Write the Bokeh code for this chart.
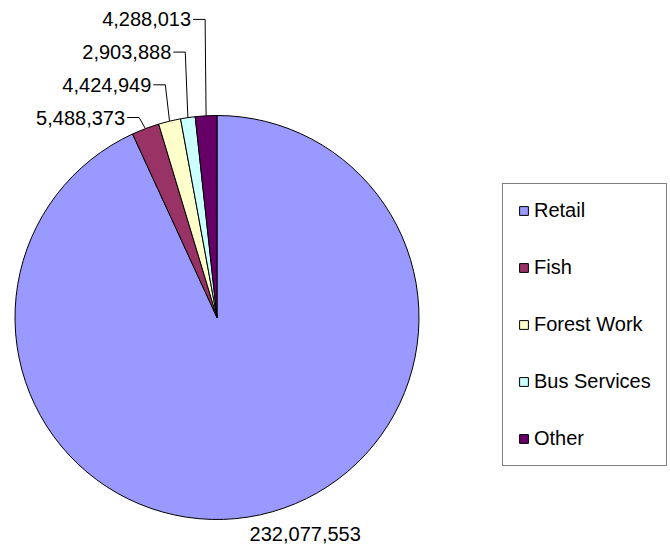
import numpy as np
from bokeh.plotting import figure
from bokeh.models import ColumnDataSource, Range1d, Legend, LegendItem
from bokeh.core.properties import value
from bokeh.embed import file_html
from bokeh.resources import INLINE

# ---- data ----
categories = ["Retail", "Fish", "Forest Work", "Bus Services", "Other"]
amounts = [232077553, 5488373, 4424949, 2903888, 4288013]
labels = ["232,077,553", "5,488,373", "4,424,949", "2,903,888", "4,288,013"]
colors = ["#9999FF", "#993366", "#FFFFCC", "#CCFFFF", "#660066"]

# ---- layout / style ----
W, H = 670, 544
CX, CY_PX, R = 216.5, 317.0, 202.0
CY = H - CY_PX
FONT = "Liberation Sans"
FSIZE = "20px"

vals = np.array(amounts, dtype=float)
frac = vals / vals.sum()
cum = np.cumsum(frac)
prev = np.concatenate([[0.0], cum[:-1]])
# clockwise from 12 o'clock
start = np.deg2rad(90 - 360 * cum)
end = np.deg2rad(90 - 360 * prev)
mid = (start + end) / 2

src = ColumnDataSource(dict(cat=categories, start=start, end=end, color=colors,
                            x=[CX] * len(categories), y=[CY] * len(categories)))

p = figure(width=W, height=H, x_range=Range1d(0, W), y_range=Range1d(0, H),
           output_backend="svg", toolbar_location=None, min_border=0,
           x_axis_type=None, y_axis_type=None)
p.grid.visible = False
p.outline_line_color = None
p.background_fill_color = "white"
p.border_fill_color = "white"

wr = p.wedge(x="x", y="y", radius=R, start_angle="start", end_angle="end",
             fill_color="color", line_color="black", line_width=1, source=src)

# ---- leader lines and labels for small slices (stacked upwards) ----
ex = CX + R * np.cos(mid)
ey = CY + R * np.sin(mid)
first_label_y = H - 117
row_gap = 32.7
lx, ly, ltxt = [], [], []
line_xs, line_ys = [], []
for k, i in enumerate(range(1, len(categories))):
    yl = first_label_y + k * row_gap
    bx = CX + 220 * np.cos(mid[i])
    line_xs.append([ex[i], bx, bx - 12])
    line_ys.append([ey[i], yl, yl])
    lx.append(bx - 14)
    ly.append(yl)
    ltxt.append(labels[i])
p.multi_line(xs=line_xs, ys=line_ys, line_color="black", line_width=1)
p.text(x=lx, y=ly, text=ltxt, text_align="right", text_baseline="middle",
       text_font=value(FONT), text_font_size=FSIZE, text_color="black")

# big slice label
p.text(x=[ex[0] + 45], y=[ey[0] - 19], text=[labels[0]], text_align="center",
       text_baseline="middle", text_font=value(FONT), text_font_size=FSIZE,
       text_color="black")

# ---- legend ----
items = [LegendItem(label=c, renderers=[wr], index=i) for i, c in enumerate(categories)]
legend = Legend(items=items, location=(502, 78), orientation="vertical",
                glyph_width=11, glyph_height=11, label_height=23,
                label_standoff=5, spacing=34, padding=15, margin=0,
                border_line_color="black", border_line_width=1,
                background_fill_color="white", background_fill_alpha=1,
                label_text_font=FONT, label_text_font_size=FSIZE,
                label_text_color="black")
p.add_layout(legend, "center")

open("out.html", "w").write(file_html(p, INLINE))
